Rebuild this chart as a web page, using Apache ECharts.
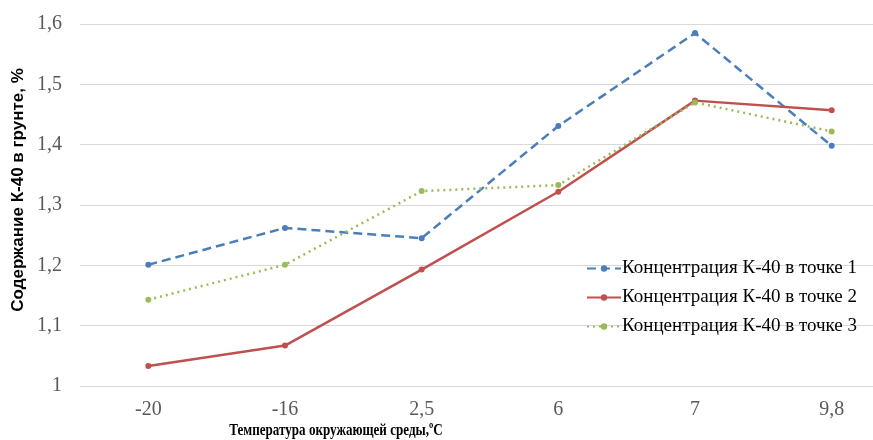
<!DOCTYPE html>
<html><head><meta charset="utf-8">
<script src="https://cdn.jsdelivr.net/npm/echarts@6/dist/echarts.min.js"></script>
<style>html,body{margin:0;padding:0;background:#fff}#c{width:873px;height:440px}</style>
</head><body><div id="c"></div>
<script>
const categories = ['-20', '-16', '2,5', '6', '7', '9,8'];
const series1 = [1.201, 1.262, 1.245, 1.431, 1.585, 1.398];
const series2 = [1.033, 1.067, 1.193, 1.322, 1.473, 1.457];
const series3 = [1.143, 1.201, 1.323, 1.333, 1.470, 1.422];
const names = ['Концентрация К-40 в точке 1', 'Концентрация К-40 в точке 2', 'Концентрация К-40 в точке 3'];
const xTitle = 'Температура окружающей среды,ºC';
const yTitle = 'Содержание К-40 в грунте, %';

const chart = echarts.init(document.getElementById('c'), null, {renderer: 'canvas'});
const mk = (name, data, color, type) => ({
  name, type: 'line', data, symbol: 'circle', symbolSize: 6,
  lineStyle: {color, width: 2.5, type},
  itemStyle: {color}, animation: false
});
chart.setOption({
  animation: false,
  grid: {left: 80, top: 24, right: -27, bottom: 54, containLabel: false, outerBoundsMode: 'none'},
  xAxis: {
    type: 'category', data: categories, boundaryGap: true,
    axisLine: {show: true, lineStyle: {color: '#d9d9d9'}},
    axisTick: {show: false},
    axisLabel: {color: '#595959', fontFamily: 'Liberation Serif', fontSize: 20, margin: 14}
  },
  yAxis: {
    type: 'value', min: 1, max: 1.6, interval: 0.1,
    axisLine: {show: false}, axisTick: {show: false},
    splitLine: {lineStyle: {color: '#d9d9d9', width: 1}},
    axisLabel: {color: '#595959', fontFamily: 'Liberation Serif', fontSize: 20, margin: 18,
      formatter: v => String(Math.round(v * 10) / 10).replace('.', ',')}
  },
  legend: {
    orient: 'vertical', left: 581, top: 254, itemGap: 10, itemWidth: 34, itemHeight: 8,
    textStyle: {fontFamily: 'Liberation Serif', fontSize: 19, color: '#000', padding: [0,0,0,-4]},
    data: names
  },
  graphic: [
    {type: 'text', x: 336, y: 431, scaleX: 0.77, style: {text: xTitle, font: 'bold 17px "Liberation Serif"', fill: '#000', textAlign: 'center', textVerticalAlign: 'middle'}},
    {type: 'text', x: 18, y: 190, rotation: Math.PI / 2, style: {text: yTitle, font: 'bold 17px "Liberation Sans"', fill: '#000', textAlign: 'center', textVerticalAlign: 'middle'}}
  ],
  series: [
    mk(names[0], series1, '#4a7ebb', [9, 5]),
    mk(names[1], series2, '#c0504d', 'solid'),
    mk(names[2], series3, '#9bbb59', [2, 4])
  ]
});
</script></body></html>
